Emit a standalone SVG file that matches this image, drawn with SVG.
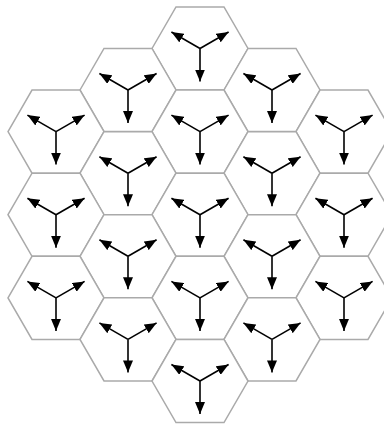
<svg xmlns="http://www.w3.org/2000/svg" xmlns:xlink="http://www.w3.org/1999/xlink" width="384" height="428" viewBox="0 0 384 428">
<style>
.hex{fill:#fff;stroke:#aaa;stroke-width:1.5}
.arr{stroke:#000;stroke-width:1.6;fill:none;marker-end:url(#ah)}
</style>
<defs>
<marker id="ah" markerUnits="userSpaceOnUse" markerWidth="12" markerHeight="10" refX="12" refY="5" orient="auto" viewBox="0 0 12 10">
<path d="M0,0 L12,5 L0,10 z" fill="#000"/>
</marker>
<polygon id="hx" class="hex" points="-48,0 -24,-41.57 24,-41.57 48,0 24,41.57 -24,41.57"/>
<g id="ar">
<line class="arr" x1="0" y1="0" x2="0" y2="33"/>
<line class="arr" x1="0" y1="0" x2="-28.6" y2="-16.5"/>
<line class="arr" x1="0" y1="0" x2="28.6" y2="-16.5"/>
</g>
</defs>
<g id="cells">
<g id="c200_0" transform="translate(200,48.5)"><use href="#hx"/><use href="#ar"/></g>
<g id="c128_0" transform="translate(128,90)"><use href="#hx"/><use href="#ar"/></g>
<g id="c272_0" transform="translate(272,90)"><use href="#hx"/><use href="#ar"/></g>
<g id="c56_0" transform="translate(56,131.6)"><use href="#hx"/><use href="#ar"/></g>
<g id="c200_1" transform="translate(200,131.6)"><use href="#hx"/><use href="#ar"/></g>
<g id="c344_0" transform="translate(344,131.6)"><use href="#hx"/><use href="#ar"/></g>
<g id="c128_1" transform="translate(128,173.2)"><use href="#hx"/><use href="#ar"/></g>
<g id="c272_1" transform="translate(272,173.2)"><use href="#hx"/><use href="#ar"/></g>
<g id="c56_1" transform="translate(56,214.7)"><use href="#hx"/><use href="#ar"/></g>
<g id="c200_2" transform="translate(200,214.7)"><use href="#hx"/><use href="#ar"/></g>
<g id="c344_1" transform="translate(344,214.7)"><use href="#hx"/><use href="#ar"/></g>
<g id="c128_2" transform="translate(128,256.3)"><use href="#hx"/><use href="#ar"/></g>
<g id="c272_2" transform="translate(272,256.3)"><use href="#hx"/><use href="#ar"/></g>
<g id="c56_2" transform="translate(56,297.9)"><use href="#hx"/><use href="#ar"/></g>
<g id="c200_3" transform="translate(200,297.9)"><use href="#hx"/><use href="#ar"/></g>
<g id="c344_2" transform="translate(344,297.9)"><use href="#hx"/><use href="#ar"/></g>
<g id="c128_3" transform="translate(128,339.4)"><use href="#hx"/><use href="#ar"/></g>
<g id="c272_3" transform="translate(272,339.4)"><use href="#hx"/><use href="#ar"/></g>
<g id="c200_4" transform="translate(200,381)"><use href="#hx"/><use href="#ar"/></g>
</g>
</svg>
